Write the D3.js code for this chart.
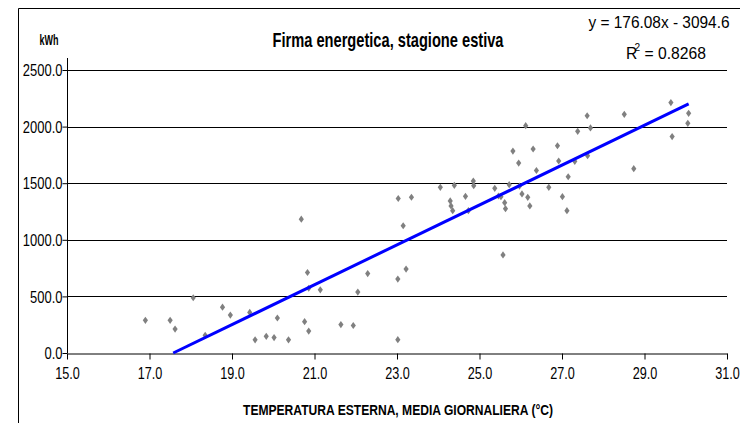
<!DOCTYPE html>
<html lang="it">
<head>
<meta charset="utf-8">
<title>Firma energetica, stagione estiva</title>
<script src="https://d3js.org/d3.v7.min.js"></script>
<style>
  body { margin: 0; background: #fff; }
  svg text { font-family: "Liberation Sans", Arial, sans-serif; fill: #000; }
</style>
</head>
<body>
<div id="chart"></div>
<script>
// temperatura esterna media giornaliera (°C) e consumo giornaliero (kWh)
var temps = [16.90, 17.50, 17.62, 18.06, 18.35, 18.77, 18.96, 19.43, 19.56, 19.83,
  20.02, 20.10, 20.37, 20.68, 20.76, 20.83, 20.86, 20.86, 21.14, 21.64,
  21.94, 22.05, 22.29, 23.02, 23.02, 23.03, 23.15, 23.22, 23.35, 24.05,
  24.29, 24.31, 24.35, 24.39, 24.66, 24.73, 24.85, 24.86, 25.37, 25.46,
  25.52, 25.57, 25.61, 25.63, 25.72, 25.81, 25.95, 25.97, 26.03, 26.12,
  26.17, 26.22, 26.30, 26.38, 26.68, 26.89, 26.92, 27.01, 27.12, 27.15,
  27.31, 27.38, 27.61, 27.62, 27.69, 28.51, 28.74, 29.64, 29.67, 30.07, 30.05];
var kwh = [289, 289, 211, 488, 156, 405, 335, 358, 116, 147,
  136, 309, 116, 1182, 277, 711, 572, 194, 558, 251,
  243, 538, 702, 653, 118, 1365, 1124, 741, 1376, 1464,
  1343, 1299, 1257, 1481, 1384, 1257, 1519, 1478, 1455, 1387,
  1381, 866, 1328, 1275, 1487, 1784, 1678, 1475, 1405, 2008,
  1375, 1299, 1802, 1612, 1464, 1831, 1696, 1381, 1257, 1557,
  1693, 1958, 2096, 1743, 1988, 2108, 1628, 2212, 1912, 2117, 2029];

var xTickValues = [15, 17, 19, 21, 23, 25, 27, 29, 31];
var yTickValues = [0, 500, 1000, 1500, 2000, 2500];

// retta di tendenza (Excel)
var slope = 176.08, intercept = -3094.6, r2 = 0.8268;

var width = 740, height = 423;
var svg = d3.select("#chart").append("svg")
  .attr("width", width)
  .attr("height", height);

var x = d3.scaleLinear().domain([15, 31]).range([67, 727]);
var y = d3.scaleLinear().domain([0, 2500]).range([353, 70]);

// comprime il testo come nell'originale
function squeeze(sel, f) {
  sel.each(function() {
    var w = this.getComputedTextLength();
    d3.select(this).attr("textLength", w * f).attr("lengthAdjust", "spacingAndGlyphs");
  });
}
function fitTo(sel, w) {
  sel.attr("textLength", w).attr("lengthAdjust", "spacingAndGlyphs");
}

// bordo del grafico
svg.append("path")
  .attr("d", "M18.5," + height + "V8.5H" + width)
  .attr("fill", "none")
  .attr("stroke", "#000")
  .attr("stroke-width", 1);

// griglia
svg.append("g").selectAll("line")
  .data(yTickValues.filter(function(d) { return d > 0; }))
  .enter().append("line")
  .attr("x1", x(15)).attr("x2", x(31))
  .attr("y1", function(d) { return Math.round(y(d)) + 0.5; })
  .attr("y2", function(d) { return Math.round(y(d)) + 0.5; })
  .attr("stroke", "#000")
  .attr("stroke-width", 1);

// assi
var fmt = d3.format(".1f");
var gx = svg.append("g")
  .attr("transform", "translate(0," + (Math.round(y(0)) + 0.5) + ")")
  .call(d3.axisBottom(x).tickValues(xTickValues).tickFormat(fmt).tickSize(6).tickSizeOuter(0));
var gy = svg.append("g")
  .attr("transform", "translate(" + (Math.round(x(15)) + 0.5) + ",0)")
  .call(d3.axisLeft(y).tickValues(yTickValues).tickFormat(fmt).tickSize(5).tickSizeOuter(0));

// l'asse verticale sale un po' oltre 2500, fino al bordo dell'area del grafico
gy.select(".domain").attr("d", "M0," + (y(2500) - 12) + "V" + y(0));

[gx, gy].forEach(function(g) {
  g.select(".domain").attr("stroke", "#000");
  g.selectAll(".tick line").attr("stroke", "#000");
  g.selectAll(".tick text").attr("font-size", 16)
    .style("font-family", "'Liberation Sans', Arial, sans-serif");
});
gx.selectAll(".tick text").attr("dy", "1.05em");
gy.selectAll(".tick text").attr("x", -5).attr("dy", "0.35em");
squeeze(gx.selectAll(".tick text"), 0.79);
squeeze(gy.selectAll(".tick text"), 0.81);

// punti
var pts = temps.map(function(t, i) { return { t: t, v: kwh[i] }; });
svg.append("g").selectAll("path")
  .data(pts)
  .enter().append("path")
  .attr("transform", function(d) { return "translate(" + x(d.t) + "," + y(d.v) + ")"; })
  .attr("d", "M0,-3.6L2.6,0L0,3.6L-2.6,0Z")
  .attr("fill", "#808080");

// linea di tendenza, dall'intersezione con y=0 fino al massimo dei dati
var tMin = Math.max(d3.min(temps), -intercept / slope);
var tMax = d3.max(temps);
svg.append("line")
  .attr("x1", x(tMin)).attr("y1", y(slope * tMin + intercept))
  .attr("x2", x(tMax)).attr("y2", y(slope * tMax + intercept))
  .attr("stroke", "#0000ff")
  .attr("stroke-width", 3);

// titoli
fitTo(svg.append("text")
  .attr("x", 388).attr("y", 47)
  .attr("text-anchor", "middle")
  .attr("font-size", 21).attr("font-weight", "bold")
  .text("Firma energetica, stagione estiva"), 231);

fitTo(svg.append("text")
  .attr("x", 49).attr("y", 45)
  .attr("text-anchor", "middle")
  .attr("font-size", 15).attr("font-weight", "bold")
  .text("kWh"), 19);

fitTo(svg.append("text")
  .attr("x", 398).attr("y", 415)
  .attr("text-anchor", "middle")
  .attr("font-size", 14).attr("font-weight", "bold")
  .text("TEMPERATURA ESTERNA, MEDIA GIORNALIERA (°C)"), 310);

// equazione
fitTo(svg.append("text")
  .attr("x", 659).attr("y", 28)
  .attr("text-anchor", "middle")
  .attr("font-size", 17)
  .text("y = " + slope.toFixed(2) + "x - " + Math.abs(intercept).toFixed(1)), 141);

var r2t = svg.append("text")
  .attr("x", 626).attr("y", 59)
  .attr("font-size", 17);
r2t.append("tspan").text("R");
r2t.append("tspan").attr("font-size", 11).attr("dx", -3).attr("dy", -8).text("2");
r2t.append("tspan").attr("dy", 8).text(" = " + r2.toFixed(4));
fitTo(r2t, 80);
</script>
</body>
</html>
